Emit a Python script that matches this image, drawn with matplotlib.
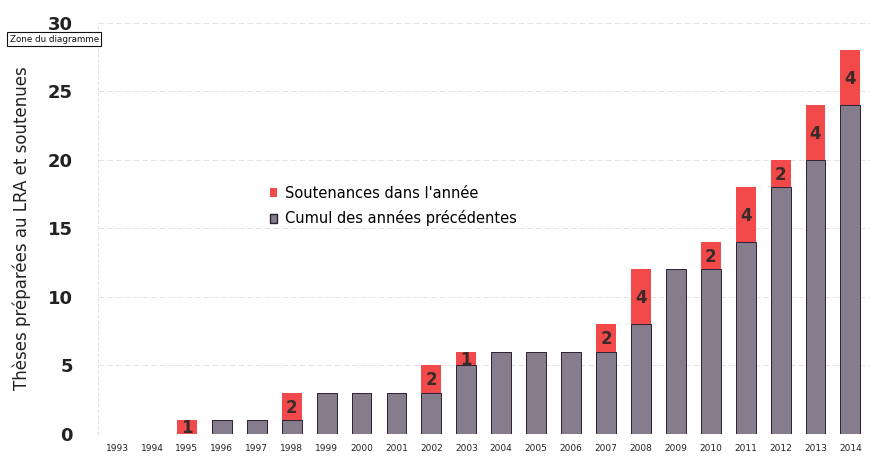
import matplotlib
matplotlib.use("Agg")
import matplotlib.pyplot as plt
from matplotlib.patches import Patch

years = [str(y) for y in range(1993, 2015)]
cumul = [0, 0, 0, 1, 1, 1, 3, 3, 3, 3, 5, 6, 6, 6, 6, 8, 12, 12, 14, 18, 20, 24]
soutenances = [0, 0, 1, 0, 0, 2, 0, 0, 0, 2, 1, 0, 0, 0, 2, 4, 0, 2, 4, 2, 4, 4]

grey = "#857c8c"
red = "#f24a4a"

plt.rcParams['font.family'] = ['DejaVu Sans']
fig = plt.figure(figsize=(8.74, 4.61), dpi=100)
ax = fig.add_axes([0.112, 0.059, 0.883, 0.892])

x = list(range(len(years)))
ax.bar(x, cumul, width=0.57, color=grey, edgecolor="#2a1f35", linewidth=0.7, zorder=3)
ax.bar(x, soutenances, width=0.57, bottom=cumul, color=red, edgecolor="none", zorder=3)

for xi, c, s in zip(x, cumul, soutenances):
    if s > 0:
        ax.text(xi, c + s / 2 - 0.1, str(s), ha="center", va="center",
                fontsize=12, fontweight="bold", color="#3a2a2a", zorder=4)

ax.set_xlim(-0.55, len(years) - 0.45)
ax.set_ylim(0, 30)
ax.set_yticks([0, 5, 10, 15, 20, 25, 30])
ax.set_yticklabels(["0", "5", "10", "15", "20", "25", "30"], fontsize=13,
                   fontweight="bold", color="#222222")
ax.set_xticks(x)
ax.set_xticklabels(years, fontsize=6.5, color="#222222")
ax.tick_params(axis="y", length=0, pad=18)
ax.tick_params(axis="x", length=0, pad=7)
ax.yaxis.grid(True, color="#e4e4e4", linestyle=(0, (6, 3)), linewidth=0.7, zorder=0)
for sp in ["top", "right", "bottom"]:
    ax.spines[sp].set_visible(False)
ax.spines["left"].set_color("#e0e0e0")
ax.spines["left"].set_linestyle((0, (2, 3)))
ax.set_ylabel("Thèses préparées au LRA et soutenues", fontsize=12, color="#222222", labelpad=12)

handles = [Patch(facecolor=red, edgecolor="none"), Patch(facecolor=grey, edgecolor="#2a1f35")]
ax.legend(handles, ["Soutenances dans l'année", "Cumul des années précédentes"],
          loc="upper left", bbox_to_anchor=(0.294, 0.625), bbox_transform=fig.transFigure,
          frameon=False, fontsize=10.5,
          handlelength=0.5, handleheight=0.6, handletextpad=0.5, labelspacing=0.65)

fig.text(0.011, 0.915, "Zone du diagramme", fontsize=6.3, color="#111111", ha="left", va="center",
         bbox=dict(boxstyle="square,pad=0.25", facecolor="white", edgecolor="#111111", linewidth=0.8))

fig.savefig("out.png", dpi=100)
